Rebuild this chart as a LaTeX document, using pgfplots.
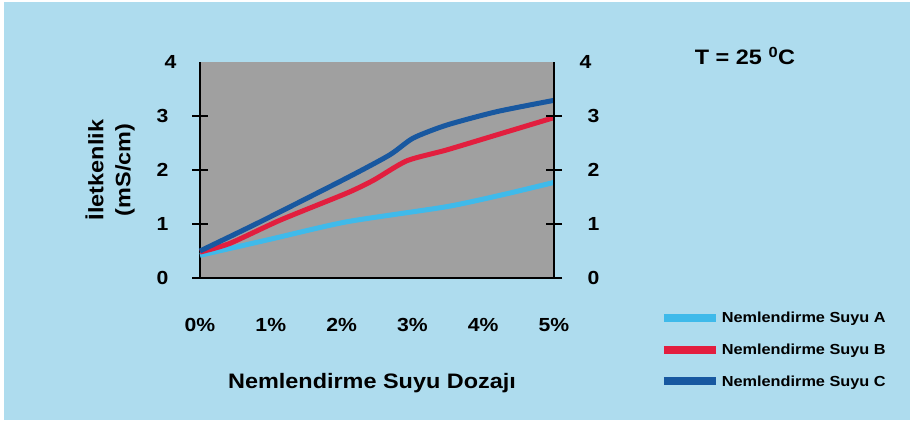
\documentclass[border=0pt]{standalone}
\usepackage{fontspec}
\setmainfont[FakeStretch=1.12]{Liberation Sans}
\usepackage{pgfplots}
\pgfplotsset{compat=1.18}
\definecolor{bgblue}{RGB}{174,220,238}
\definecolor{plotgray}{RGB}{160,160,160}
\definecolor{colA}{RGB}{63,186,234}
\definecolor{colB}{RGB}{226,30,62}
\definecolor{colC}{RGB}{24,88,160}
\begin{document}
\begin{tikzpicture}
\path[use as bounding box] (0,0) rectangle (914bp,424bp);
\fill[white] (0,0) rectangle (914bp,424bp);
\fill[bgblue] (4bp,4bp) rectangle (910bp,422bp);
\begin{axis}[
  at={(200bp,146bp)}, anchor=south west,
  scale only axis, width=354bp, height=216bp,
  xmin=0, xmax=5, ymin=0, ymax=4,
  axis x line*=bottom, axis y line*=left,
  axis line style={line width=1.4bp, -},
  axis background/.style={fill=plotgray},
  xtick={0,1,2,3,4,5}, xticklabels={0\%,1\%,2\%,3\%,4\%,5\%},
  ytick={0,1,2,3}, extra y ticks={4},
  extra y tick style={major tick length=0pt},
  x tick style={draw=none},
  y tick style={line width=1.4bp, black},
  major tick length=16bp, tick align=center,
  /pgf/number format/assume math mode=true,
  ticklabel style={font=\bfseries\fontsize{19}{19}\selectfont},
  yticklabel style={anchor=east, xshift=-20bp},
  xticklabel style={anchor=north, yshift=-29bp},
  xlabel={Nemlendirme Suyu Dozajı},
  ylabel={İletkenlik\\(mS/cm)},
  every axis x label/.style={at={(axis description cs:0.486,-0.486)}, anchor=center, font=\bfseries\fontsize{21}{24}\selectfont},
  every axis y label/.style={at={(axis description cs:-0.254,0.5)}, rotate=90, anchor=center, align=center, font=\bfseries\fontsize{21}{27}\selectfont},
  legend style={at={(axis description cs:1.29,-0.14)}, anchor=north west, draw=none, fill=none,
    font=\bfseries\fontsize{14.6}{14.6}\selectfont, row sep=15.5bp, cells={anchor=west}},
  legend image code/.code={\draw[line width=8bp] (0bp,0bp) -- (52bp,0bp);},
  clip=false,
]
\addplot[colA, line width=5bp, smooth, tension=0.4] coordinates {
  (0,0.42) (1.0,0.72) (2.07,1.04) (3.48,1.32) (4.3,1.55) (5,1.77)};
\addlegendentry{Nemlendirme Suyu A}
\addplot[colB, line width=5bp, smooth, tension=0.4] coordinates {
  (0,0.48) (0.42,0.64) (1.13,1.07) (2.07,1.57) (2.45,1.81) (2.92,2.17) (3.48,2.37) (4.19,2.65) (5,2.97)};
\addlegendentry{Nemlendirme Suyu B}
\addplot[colC, line width=5bp, smooth, tension=0.4] coordinates {
  (0,0.50) (0.85,1.04) (2.07,1.85) (2.68,2.28) (3.01,2.59) (3.48,2.83) (4.19,3.08) (5,3.29)};
\addlegendentry{Nemlendirme Suyu C}
\end{axis}
\begin{axis}[
  at={(200bp,146bp)}, anchor=south west,
  scale only axis, width=354bp, height=216bp,
  xmin=0, xmax=5, ymin=0, ymax=4,
  axis x line=none, axis y line*=right,
  axis line style={line width=1.4bp, -},
  ytick={0,1,2,3}, extra y ticks={4},
  extra y tick style={major tick length=0pt},
  y tick style={line width=1.4bp, black},
  major tick length=16bp, tick align=center,
  /pgf/number format/assume math mode=true,
  ticklabel style={font=\bfseries\fontsize{19}{19}\selectfont},
  yticklabel style={anchor=west, xshift=22bp},
]
\end{axis}
\node[font=\bfseries\fontsize{21}{21}\selectfont] at (745bp,368bp) {T = 25 \textsuperscript{0}C};
\end{tikzpicture}
\end{document}
